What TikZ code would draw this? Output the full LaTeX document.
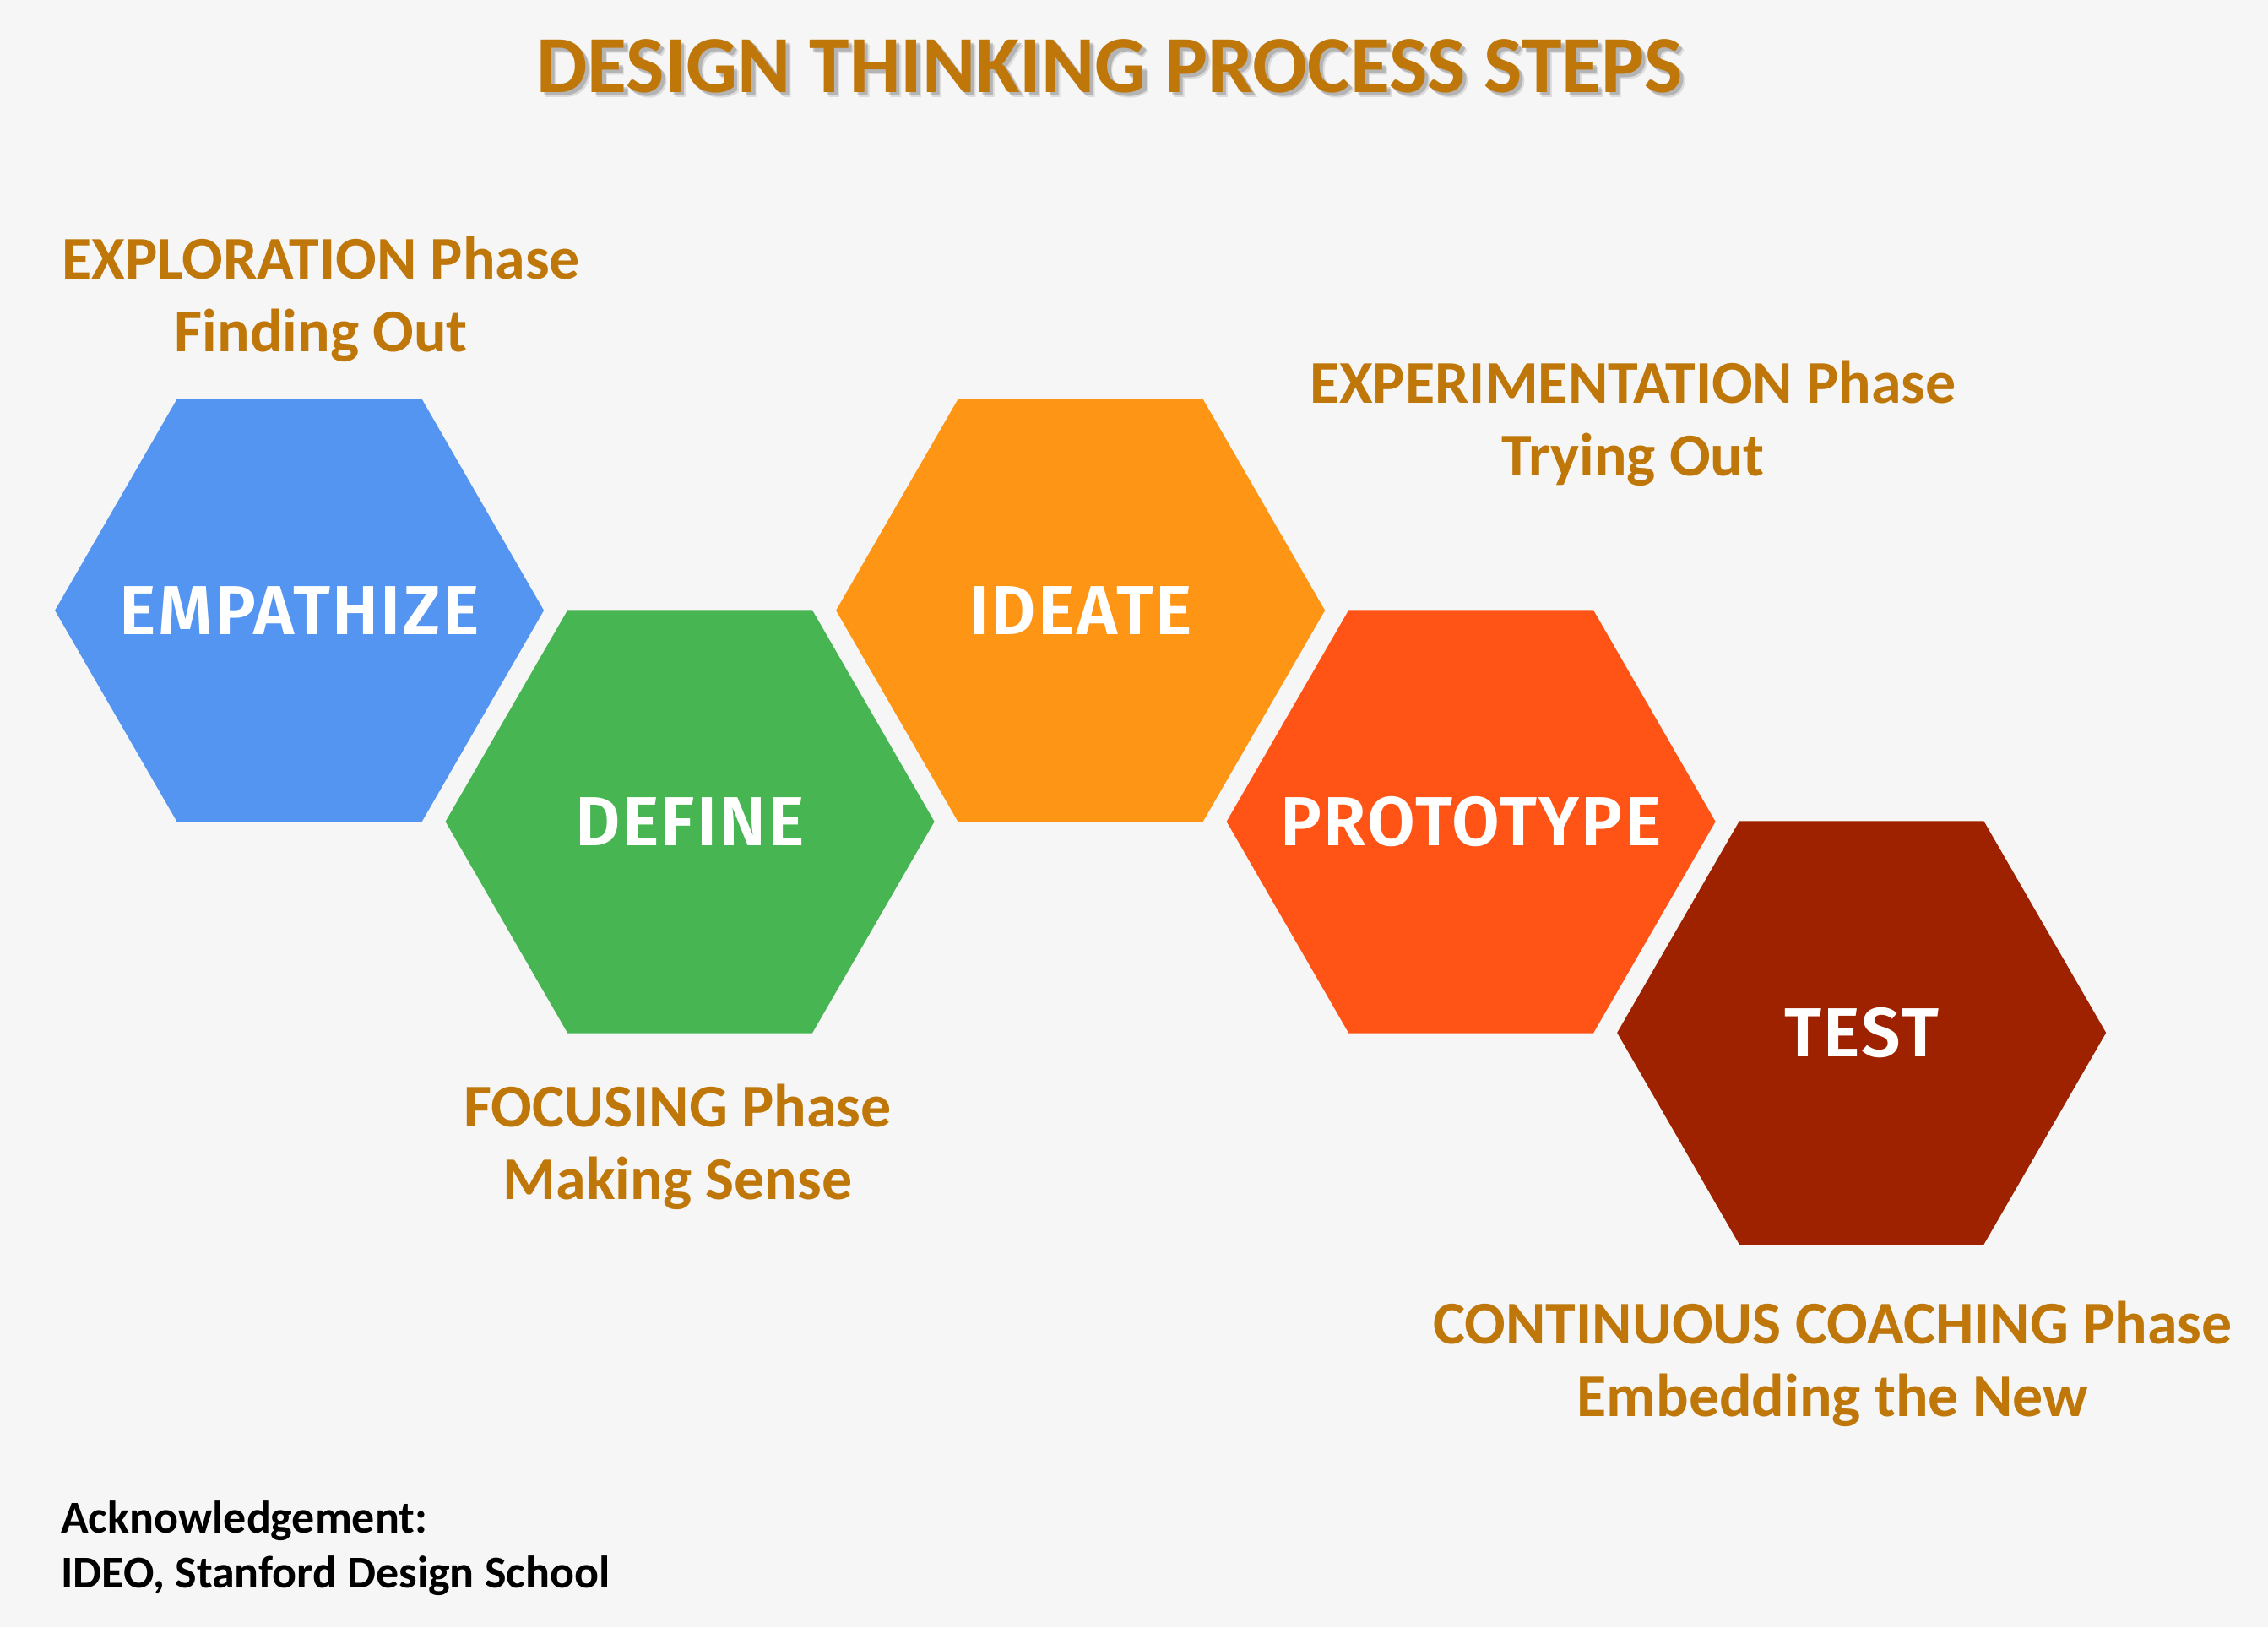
\documentclass[tikz,border=0pt]{standalone}
\usepackage{fontspec}
\setmainfont{Carlito}
\newfontfamily\hexfont[LetterSpace=3]{Fira Sans SemiBold}
\usetikzlibrary{shapes.geometric}
\definecolor{bgcol}{HTML}{F6F6F6}
\definecolor{phasebrown}{HTML}{BF770A}
\definecolor{empblue}{HTML}{5595F2}
\definecolor{defgreen}{HTML}{48B553}
\definecolor{ideorange}{HTML}{FF9514}
\definecolor{protored}{HTML}{FF5416}
\definecolor{testred}{HTML}{9E2200}
\begin{document}
\begin{tikzpicture}[x=1pt,y=-1pt,
  hexa/.style={regular polygon, regular polygon sides=6, minimum size=338pt,
    inner sep=0pt, outer sep=0pt, fill=#1},
  hexlabel/.style={text=white, inner sep=0pt,
    font=\hexfont\fontsize{48}{48}\selectfont},
  phase/.style={text=phasebrown, font=\bfseries\fontsize{42}{50}\selectfont,
    anchor=base, inner sep=0pt},
  ack/.style={text=black, font=\bfseries\fontsize{31.5}{37}\selectfont,
    anchor=base west, inner sep=0pt},
  titlestyle/.style={font=\bfseries\fontsize{56}{62}\selectfont, anchor=base, inner sep=0pt}
  ]
\fill[bgcol] (0,0) rectangle (1568,1125);
\useasboundingbox (0,0) rectangle (1568,1125);

% title with shadow
\node[titlestyle, text=black, opacity=0.1] (titleshadowB) at (770.5,67.5) {DESIGN THINKING PROCESS STEPS};
\node[titlestyle, text=black, opacity=0.18] (titleshadow) at (769.5,66.5) {DESIGN THINKING PROCESS STEPS};
\node[titlestyle, text=phasebrown] (title) at (767,64) {DESIGN THINKING PROCESS STEPS};

% hexagons
\node[hexa=empblue]   (emp)   at (207,422)  {};
\node[hexa=defgreen]  (def)   at (477,568)  {};
\node[hexa=ideorange] (ide)   at (747,422)  {};
\node[hexa=protored]  (proto) at (1017,568) {};
\node[hexa=testred]   (test)  at (1287,714) {};

\node[hexlabel] (empT)   at (emp.center)   {EMPATHIZE};
\node[hexlabel] (defT)   at (def.center)   {DEFINE};
\node[hexlabel] (ideT)   at (ide.center)   {IDEATE};
\node[hexlabel] (protoT) at (proto.center) {PROTOTYPE};
\node[hexlabel] (testT)  at (test.center)  {TEST};

% phase labels
\node[phase] (explA) at (222,193) {EXPLORATION Phase};
\node[phase] (explB) at (222,243) {Finding Out};
\node[phase] (expeA) at (1129,279) {EXPERIMENTATION Phase};
\node[phase] (expeB) at (1129,329) {Trying Out};
\node[phase] (focA) at (468.5,779) {FOCUSING Phase};
\node[phase] (focB) at (468.5,829) {Making Sense};
\node[phase] (contA) at (1267,929) {CONTINUOUS COACHING Phase};
\node[phase] (contB) at (1267,979) {Embedding the New};

% acknowledgement
\node[ack] (ackA) at (42,1060) {Acknowledgement:};
\node[ack] (ackB) at (42,1097.5) {IDEO, Stanford Design School};
\end{tikzpicture}
\end{document}
